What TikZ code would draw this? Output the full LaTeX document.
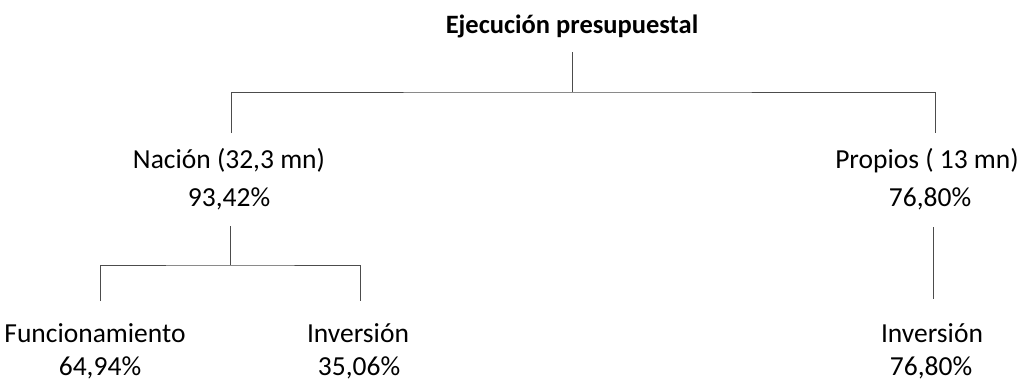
\documentclass[tikz,border=0pt]{standalone}
\usepackage{fontspec}
\setmainfont{Carlito}
\begin{document}
\begin{tikzpicture}[x=1pt,y=-1pt,
  lbl/.style={anchor=base,inner sep=0pt,font=\fontsize{27.5}{33}\selectfont},
  ttl/.style={anchor=base,inner sep=0pt,font=\fontsize{26.5}{31}\selectfont\bfseries},
  conn/.style={draw=black!70,line width=0.9pt}]
\useasboundingbox (0,0) rectangle (1023,381);
% texts
\node[ttl] (title) at (572,33) {Ejecución presupuestal};
\node[lbl] (nacion) at (229,168) {Nación (32,3 mn)};
\node[lbl] (nacionp) at (229,206) {93,42\%};
\node[lbl] (propios) at (927,168) {Propios ( 13 mn)};
\node[lbl] (propiosp) at (930,206) {76,80\%};
\node[lbl] (func) at (95,342) {Funcionamiento};
\node[lbl] (funcp) at (100,375) {64,94\%};
\node[lbl] (invn) at (358,342) {Inversión};
\node[lbl] (invnp) at (359,375) {35,06\%};
\node[lbl] (invp) at (932,342) {Inversión};
\node[lbl] (invpp) at (931,375) {76,80\%};
% connector points
\coordinate (t0) at (572,52);
\coordinate (t1) at (572,92);
\coordinate (nTop) at (231,133);
\coordinate (pTop) at (935,133);
\coordinate (n0) at (230,226);
\coordinate (n1) at (230,265);
\coordinate (fTop) at (100,301);
\coordinate (iTop) at (360,301);
\coordinate (p0) at (933,227);
\coordinate (p1) at (933,299);
% connectors
\draw[conn] (t0) -- (t1);
\draw[conn] (nTop) |- (t1) -| (pTop);
\draw[conn] (n0) -- (n1);
\draw[conn] (fTop) |- (n1) -| (iTop);
\draw[conn] (p0) -- (p1);
\end{tikzpicture}
\end{document}
